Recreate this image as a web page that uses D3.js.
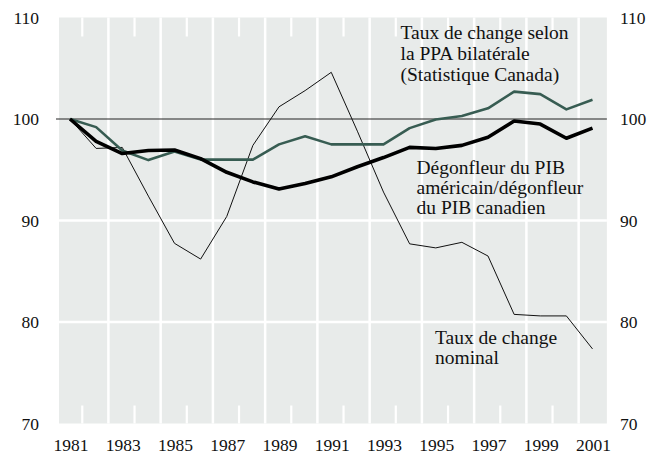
<!DOCTYPE html>
<html>
<head>
<meta charset="utf-8">
<script src="https://cdn.jsdelivr.net/npm/d3@7"></script>
<style>
  body { margin: 0; background: #fff; }
  text { font-family: "Liberation Serif", "Times New Roman", serif; fill: #111; }
</style>
</head>
<body>
<div id="chart"></div>
<script>
// years on the x axis
const years = d3.range(1981, 2002);

// Taux de change nominal
const nominal = [100, 97.1, 97.2, 92.4, 87.75, 86.2, 90.4, 97.4, 101.2, 102.8, 104.6,
  98.8, 92.8, 87.7, 87.3, 87.85, 86.5, 80.75, 80.6, 80.6, 77.35];

// Taux de change selon la PPA bilatérale (Statistique Canada)
const ppa = [100, 99.2, 96.9, 95.95, 96.8, 96.0, 96.0, 96.0, 97.5, 98.3, 97.5,
  97.5, 97.5, 99.1, 99.95, 100.3, 101.05, 102.7, 102.45, 100.95, 101.9];

// Dégonfleur du PIB américain/dégonfleur du PIB canadien
const deflator = [100, 97.8, 96.6, 96.9, 96.95, 96.1, 94.75, 93.8, 93.1, 93.65, 94.3,
  95.3, 96.2, 97.2, 97.1, 97.4, 98.2, 99.8, 99.5, 98.1, 99.1];

const yTicks = [70, 80, 90, 100, 110];
const xTickYears = [1981, 1983, 1985, 1987, 1989, 1991, 1993, 1995, 1997, 1999, 2001];

const width = 660, height = 456;

const x = d3.scaleLinear().domain([1981, 2001]).range([70, 592.5]);
const y = d3.scaleLinear().domain([70, 110]).range([423.5, 17.5]);

const svg = d3.select("#chart")
  .append("svg")
  .attr("width", width)
  .attr("height", height);

// grey plot panel
svg.append("rect")
  .attr("x", x(1980.58))
  .attr("y", y(110))
  .attr("width", x(2001.55) - x(1980.58))
  .attr("height", y(70) - y(110))
  .style("fill", "#e8ebea");

// white horizontal grid lines
svg.selectAll(".hgrid")
  .data([80, 90])
  .join("line")
  .attr("class", "hgrid")
  .attr("x1", x(1980.58)).attr("x2", x(2001.55))
  .attr("y1", d => y(d)).attr("y2", d => y(d))
  .style("stroke", "#fff")
  .style("stroke-width", 2.5);

// vertical separators between years: full lines on even years, short ticks on odd years
const seps = d3.range(1981, 2001).map(d => d + 0.47);
svg.selectAll(".vfull")
  .data(seps.filter(d => Math.floor(d) % 2 === 0))
  .join("line")
  .attr("class", "vfull")
  .attr("x1", d => x(d)).attr("x2", d => x(d))
  .attr("y1", y(110)).attr("y2", y(70))
  .style("stroke", "#fff")
  .style("stroke-width", 2.5);

const shortSeps = seps.filter(d => Math.floor(d) % 2 === 1);
svg.selectAll(".vtop")
  .data(shortSeps)
  .join("line")
  .attr("class", "vtop")
  .attr("x1", d => x(d)).attr("x2", d => x(d))
  .attr("y1", y(110)).attr("y2", y(110) + 19)
  .style("stroke", "#fff")
  .style("stroke-width", 2.2);
svg.selectAll(".vbot")
  .data(shortSeps)
  .join("line")
  .attr("class", "vbot")
  .attr("x1", d => x(d)).attr("x2", d => x(d))
  .attr("y1", y(70) - 18).attr("y2", y(70))
  .style("stroke", "#fff")
  .style("stroke-width", 2.2);

// reference line at 100
svg.append("line")
  .attr("x1", 56).attr("x2", x(2001.55))
  .attr("y1", y(100)).attr("y2", y(100))
  .style("stroke", "#222")
  .style("stroke-width", 1);

// axes labels
svg.selectAll(".yl")
  .data(yTicks)
  .join("text")
  .attr("class", "yl")
  .attr("x", 39)
  .attr("y", d => y(d))
  .attr("dy", "0.36em")
  .style("text-anchor", "end")
  .style("font-size", "17.5px")
  .text(d => d);

svg.selectAll(".yr")
  .data(yTicks)
  .join("text")
  .attr("class", "yr")
  .attr("x", 620)
  .attr("y", d => y(d))
  .attr("dy", "0.36em")
  .style("text-anchor", "start")
  .style("font-size", "17.5px")
  .text(d => d);

svg.selectAll(".xl")
  .data(xTickYears)
  .join("text")
  .attr("class", "xl")
  .attr("x", d => x(d) + 1)
  .attr("y", 451)
  .style("text-anchor", "middle")
  .style("font-size", "17.5px")
  .text(d => d);

// series lines
const line = d3.line()
  .x((d, i) => x(years[i]))
  .y(d => y(d));

svg.append("path")
  .datum(nominal)
  .attr("d", line)
  .style("fill", "none")
  .style("stroke", "#111")
  .style("stroke-width", 1)
  .style("stroke-linejoin", "round");

svg.append("path")
  .datum(ppa)
  .attr("d", line)
  .style("fill", "none")
  .style("stroke", "#375c52")
  .style("stroke-width", 2.6)
  .style("stroke-linejoin", "round");

svg.append("path")
  .datum(deflator)
  .attr("d", line)
  .style("fill", "none")
  .style("stroke", "#000")
  .style("stroke-width", 3.6)
  .style("stroke-linejoin", "round");

// annotations
function note(lines, x0, y0, gap) {
  const t = svg.append("text")
    .attr("x", x0)
    .attr("y", y0)
    .style("font-size", "19.5px");
  lines.forEach((s, i) => {
    t.append("tspan")
      .attr("x", x0)
      .attr("y", y0 + i * gap)
      .text(s);
  });
}

note(["Taux de change selon", "la PPA bilatérale", "(Statistique Canada)"], 400.5, 38.5, 21);
note(["Dégonfleur du PIB", "américain/dégonfleur", "du PIB canadien"], 416.5, 173.5, 20);
note(["Taux de change", "nominal"], 435, 343.5, 20);
</script>
</body>
</html>
